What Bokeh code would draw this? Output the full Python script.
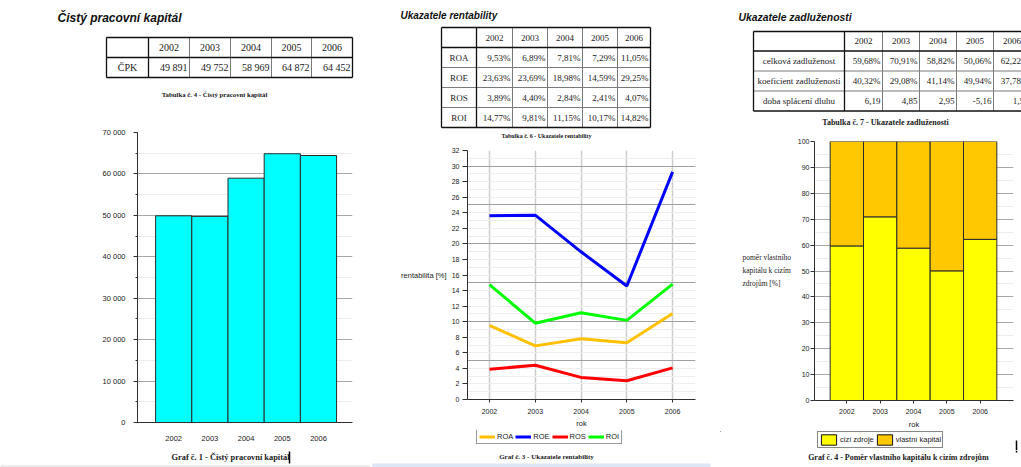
from bokeh.plotting import figure
from bokeh.layouts import row, column
from bokeh.models import (Range1d, FixedTicker, SingleIntervalTicker, Legend, LegendItem,
                          CustomJSTickFormatter, ColumnDataSource)
from bokeh.core.properties import value
from bokeh.embed import file_html
from bokeh.resources import INLINE

# ---- data -------------------------------------------------------------
years = [2002, 2003, 2004, 2005, 2006]

cpk = [49891, 49752, 58969, 64872, 64452]          # čistý pracovní kapitál

roa = [9.53, 6.89, 7.81, 7.29, 11.05]
roe = [23.63, 23.69, 18.98, 14.59, 29.25]
ros = [3.89, 4.40, 2.84, 2.41, 4.07]
roi = [14.77, 9.81, 11.15, 10.17, 14.82]

celkova_zadluzenost = [59.68, 70.91, 58.82, 50.06, 62.22]
koeficient_zadluzenosti = [40.32, 29.08, 41.14, 49.94, 37.78]
doba_splaceni = [6.19, 4.85, 2.95, -5.16, 1.59]

# ---- fonts ------------------------------------------------------------
SANS = "'Liberation Sans', Arial, sans-serif"
SERIF = "'Liberation Serif', 'Times New Roman', serif"
TXT = "#1a1a1a"


def pct(v):
    return f"{v:.2f}".replace(".", ",") + "%"


def num(v):
    return f"{v:,}".replace(",", " ")


def dec(v):
    return f"{v:.2f}".replace(".", ",")


def canvas(w, h):
    """Plain drawing surface in pixel coordinates (y grows downwards)."""
    p = figure(width=w, height=h, x_range=Range1d(0, w), y_range=Range1d(h, 0),
               x_axis_type=None, y_axis_type=None, min_border=0,
               toolbar_location=None, output_backend="svg", frame_align=False,
               outline_line_color=None, background_fill_color="white",
               border_fill_color="white")
    p.grid.visible = False
    return p


def put_text(p, x, y, s, size, font=SERIF, style="normal", align="center", color=TXT):
    p.text(x=[x], y=[y], text=[s], text_font=value(font), text_font_size=size,
           text_font_style=style, text_align=align, text_baseline="middle",
           text_color=color)


def draw_table(p, xs, ys, header, labels, cells, size, pad=2):
    left, right, top, bottom = xs[0], xs[-1], ys[0], ys[-1]
    # thin inner rules
    vx = xs[2:-1]
    hy = ys[2:-1]
    p.segment(x0=vx + [left] * len(hy), y0=[top] * len(vx) + hy,
              x1=vx + [right] * len(hy), y1=[bottom] * len(vx) + hy,
              line_color="#7a7a7a", line_width=1)
    # outer box, label column and header rule
    p.segment(x0=[left, left, left, right, xs[1], left],
              y0=[top, bottom, top, top, top, ys[1]],
              x1=[right, right, left, right, xs[1], right],
              y1=[top, bottom, bottom, bottom, bottom, ys[1]],
              line_color="#101010", line_width=1.3)
    hx = [(xs[i + 1] + xs[i + 2]) / 2 for i in range(len(header))]
    p.text(x=hx, y=[(ys[0] + ys[1]) / 2] * len(header), text=[str(h) for h in header],
           text_font=value(SERIF), text_font_size=size, text_align="center",
           text_baseline="middle", text_color=TXT)
    ly = [(ys[i + 1] + ys[i + 2]) / 2 for i in range(len(labels))]
    p.text(x=[(xs[0] + xs[1]) / 2] * len(labels), y=ly, text=labels,
           text_font=value(SERIF), text_font_size=size, text_align="center",
           text_baseline="middle", text_color=TXT)
    cx, cy, ct = [], [], []
    for r, vals in enumerate(cells):
        for c, s in enumerate(vals):
            cx.append(xs[c + 2] - pad)
            cy.append(ly[r])
            ct.append(s)
    p.text(x=cx, y=cy, text=ct, text_font=value(SERIF), text_font_size=size,
           text_align="right", text_baseline="middle", text_color=TXT)


def style_chart(p, label_size):
    p.outline_line_color = None
    p.background_fill_color = "white"
    p.border_fill_color = "white"
    for ax in p.axis:
        ax.axis_line_color = "#303030"
        ax.major_tick_line_color = "#303030"
        ax.minor_tick_line_color = "#303030"
        ax.major_tick_in = 0
        ax.minor_tick_in = 0
        ax.major_label_text_font = SANS
        ax.major_label_text_font_size = label_size
        ax.major_label_text_color = TXT
        ax.axis_label_text_font = SANS
        ax.axis_label_text_font_style = "normal"
        ax.axis_label_text_color = TXT


def chart(w, h, xr, yr, left, right, top, bottom):
    return figure(width=w, height=h, x_range=xr, y_range=yr,
                  min_border_left=left, min_border_right=right,
                  min_border_top=top, min_border_bottom=bottom,
                  toolbar_location=None, output_backend="svg", frame_align=False)


def legend_strip(w, h, entries, loc, **kw):
    """Strip under a chart holding a horizontal legend for the given entries.
    The legend renderers sit outside the visible range; only their swatches show."""
    p = canvas(w, h)
    items = [LegendItem(label=name, renderers=[make(p)]) for name, make in entries]
    p.add_layout(Legend(items=items, orientation="horizontal", location=loc,
                        margin=0, label_text_font=SANS, label_text_color=TXT,
                        background_fill_color="white", background_fill_alpha=1, **kw))
    return p


# ======================================================================
# Panel 1 – Čistý pracovní kapitál
# ======================================================================
top1 = canvas(370, 125)
put_text(top1, 57, 17, "Čistý pracovní kapitál", "12px", font=SANS,
         style="bold italic", align="left", color="#111111")
draw_table(top1, [106, 148, 189, 230, 271, 311, 352], [37, 57, 77],
           years, ["ČPK"], [[num(v) for v in cpk]], "10px")
put_text(top1, 214, 94, "Tabulka č. 4 - Čistý pracovní kapitál", "6.8px", style="bold")

c1 = chart(370, 320, Range1d(2001.0, 2006.94), Range1d(0, 70000), 137, 18, 7, 23)
c1.vbar(x=years, top=cpk, width=1.0, fill_color="#00FFFF", line_color="#2a2a2a",
        line_width=1)
style_chart(c1, "7.5px")
c1.xgrid.visible = False
c1.ygrid[0].ticker = SingleIntervalTicker(interval=10000, num_minor_ticks=2)
c1.ygrid[0].grid_line_color = "#a8a8a8"
c1.ygrid[0].minor_grid_line_color = "#ececec"
c1.yaxis[0].ticker = SingleIntervalTicker(interval=10000, num_minor_ticks=2)
c1.yaxis[0].formatter = CustomJSTickFormatter(
    code="return String(tick).replace(/\\B(?=(\\d{3})+(?!\\d))/g, ' ')")
c1.yaxis[0].major_tick_out = 4
c1.yaxis[0].minor_tick_out = 2
c1.yaxis[0].major_label_standoff = 8
c1.xaxis[0].ticker = FixedTicker(ticks=years)
c1.xaxis[0].major_tick_line_color = None
c1.xaxis[0].minor_tick_line_color = None
c1.xaxis[0].major_label_standoff = 7

bot1 = canvas(370, 22)
put_text(bot1, 230, 12, "Graf č. 1 - Čistý pracovní kapitál", "8.4px", style="bold")
bot1.segment(x0=[289], y0=[6], x1=[289], y1=[18], line_color="black", line_width=1.5)
bot1.quad(left=[0], right=[370], top=[19.5], bottom=[22], fill_color="#ececec",
          line_color=None)

# ======================================================================
# Panel 2 – Ukazatele rentability
# ======================================================================
top2 = canvas(350, 143)
put_text(top2, 30, 15, "Ukazatele rentability", "10px", font=SANS,
         style="bold italic", align="left", color="#111111")
draw_table(top2, [71, 106, 142, 177, 212, 247, 280], [27, 47, 67, 87, 107, 127],
           years, ["ROA", "ROE", "ROS", "ROI"],
           [[pct(v) for v in s] for s in (roa, roe, ros, roi)], "9px")
put_text(top2, 176, 135, "Tabulka č. 6 - Ukazatele rentability", "6px", style="bold")

# y-axis caption, written horizontally to the left of the axis
lab2 = canvas(78, 287)
put_text(lab2, 76, 132, "rentabilita [%]", "7.5px", font=SANS, align="right")

c2 = chart(272, 287, Range1d(2001.52, 2006.5), Range1d(0, 32), 18, 25, 7, 31)
series = [("ROA", roa, "#FFC000"), ("ROE", roe, "#0000FF"),
          ("ROS", ros, "#FF0000"), ("ROI", roi, "#00FF00")]
for name, vals, color in series:
    c2.line(x=years, y=vals, line_color=color, line_width=3)
style_chart(c2, "7px")
c2.ygrid[0].ticker = SingleIntervalTicker(interval=5, num_minor_ticks=5)
c2.ygrid[0].grid_line_color = "#a0a0a0"
c2.ygrid[0].minor_grid_line_color = "#ededed"
c2.xgrid[0].ticker = FixedTicker(ticks=years)
c2.xgrid[0].grid_line_color = "#cccccc"
c2.xgrid[0].grid_line_width = 1.5
c2.yaxis[0].ticker = SingleIntervalTicker(interval=2, num_minor_ticks=0)
c2.yaxis[0].major_tick_out = 5
c2.yaxis[0].major_label_standoff = 3
c2.xaxis[0].ticker = FixedTicker(ticks=years)
c2.xaxis[0].major_tick_out = 3
c2.xaxis[0].major_label_standoff = 6
c2.xaxis[0].axis_label = "rok"
c2.xaxis[0].axis_label_text_font_size = "7.5px"
c2.xaxis[0].axis_label_standoff = 2

leg2 = legend_strip(
    350, 18,
    [(name, lambda p, c=color: p.line(x=[-60, -50], y=[-60, -50], line_color=c,
                                       line_width=3))
     for name, _, color in series],
    (106, 4), glyph_width=16, glyph_height=9, label_width=10, label_height=9,
    label_standoff=2, spacing=2, padding=2, label_text_font_size="7.5px",
    border_line_color="#333333", border_line_width=1.5)

bot2 = canvas(350, 19)
put_text(bot2, 176, 8, "Graf č. 3 - Ukazatele rentability", "7px", style="bold")
bot2.quad(left=[2], right=[340], top=[15], bottom=[19], fill_color="#dce6f5",
          line_color=None)

# ======================================================================
# Panel 3 – Ukazatele zadluženosti
# ======================================================================
top3 = canvas(301, 134)
put_text(top3, 18, 17, "Ukazatele zadluženosti", "10.4px", font=SANS,
         style="bold italic", align="left", color="#111111")
draw_table(top3, [33, 124, 162, 199, 236, 273, 310], [31, 50.5, 70.5, 90.5, 110.5],
           years, ["celková zadluženost", "koeficient zadluženosti", "doba splácení dluhu"],
           [[pct(v) for v in celkova_zadluzenost],
            [pct(v) for v in koeficient_zadluzenosti],
            [dec(v) for v in doba_splaceni]], "9px")
put_text(top3, 165, 122, "Tabulka č. 7 - Ukazatele zadluženosti", "8px", style="bold")

# y-axis caption in three lines
lab3 = canvas(74, 297)
for i, line in enumerate(["poměr vlastního", "kapitálu k cizím", "zdrojům [%]"]):
    put_text(lab3, 22, 123 + 13 * i, line, "7.5px", align="left")

c3 = chart(227, 297, Range1d(2001.03, 2007.0), Range1d(0, 100), 17, 8, 7, 31)
src3 = ColumnDataSource(dict(year=years, cizi=celkova_zadluzenost,
                             vlastni=koeficient_zadluzenosti))
stack_colors = ["#FFFF00", "#FFC800"]
c3.vbar_stack(["cizi", "vlastni"], x="year", width=1.0, source=src3,
              fill_color=stack_colors, line_color="#2a2a2a", line_width=1)
style_chart(c3, "7px")
c3.xgrid.visible = False
c3.ygrid[0].ticker = SingleIntervalTicker(interval=10, num_minor_ticks=2)
c3.ygrid[0].grid_line_color = "#a8a8a8"
c3.ygrid[0].minor_grid_line_color = "#ececec"
c3.yaxis[0].ticker = SingleIntervalTicker(interval=10, num_minor_ticks=0)
c3.yaxis[0].major_tick_out = 4
c3.yaxis[0].major_label_standoff = 1
c3.xaxis[0].ticker = FixedTicker(ticks=years)
c3.xaxis[0].major_tick_out = 3
c3.xaxis[0].major_label_standoff = 5
c3.xaxis[0].axis_label = "rok"
c3.xaxis[0].axis_label_text_font_size = "7.5px"
c3.xaxis[0].axis_label_standoff = 3

leg3 = legend_strip(
    301, 19,
    [(name, lambda p, c=color: p.vbar(x=[-60], top=[-50], bottom=[-40], width=1,
                                       fill_color=c, line_color="#111111"))
     for name, color in zip(["cizí zdroje", "vlastní kapitál"], stack_colors)],
    (97, 2), glyph_width=19, glyph_height=13, label_width=10, label_height=13,
    label_standoff=2, spacing=1, padding=1, label_text_font_size="7.5px",
    border_line_color="#111111", border_line_width=1)
leg3.segment(x0=[296], y0=[9], x1=[296], y1=[19], line_color="black", line_width=1.5)

bot3 = canvas(301, 17)
put_text(bot3, 178, 7, "Graf č. 4 - Poměr vlastního kapitálu k cizím zdrojům", "8px",
         style="bold")
bot3.segment(x0=[296], y0=[0], x1=[296], y1=[2], line_color="black", line_width=1.5)

layout = row(column(top1, c1, bot1),
             column(top2, row(lab2, c2), leg2, bot2),
             column(top3, row(lab3, c3), leg3, bot3))

open("out.html", "w").write(file_html(layout, INLINE, title="Finanční ukazatele"))
